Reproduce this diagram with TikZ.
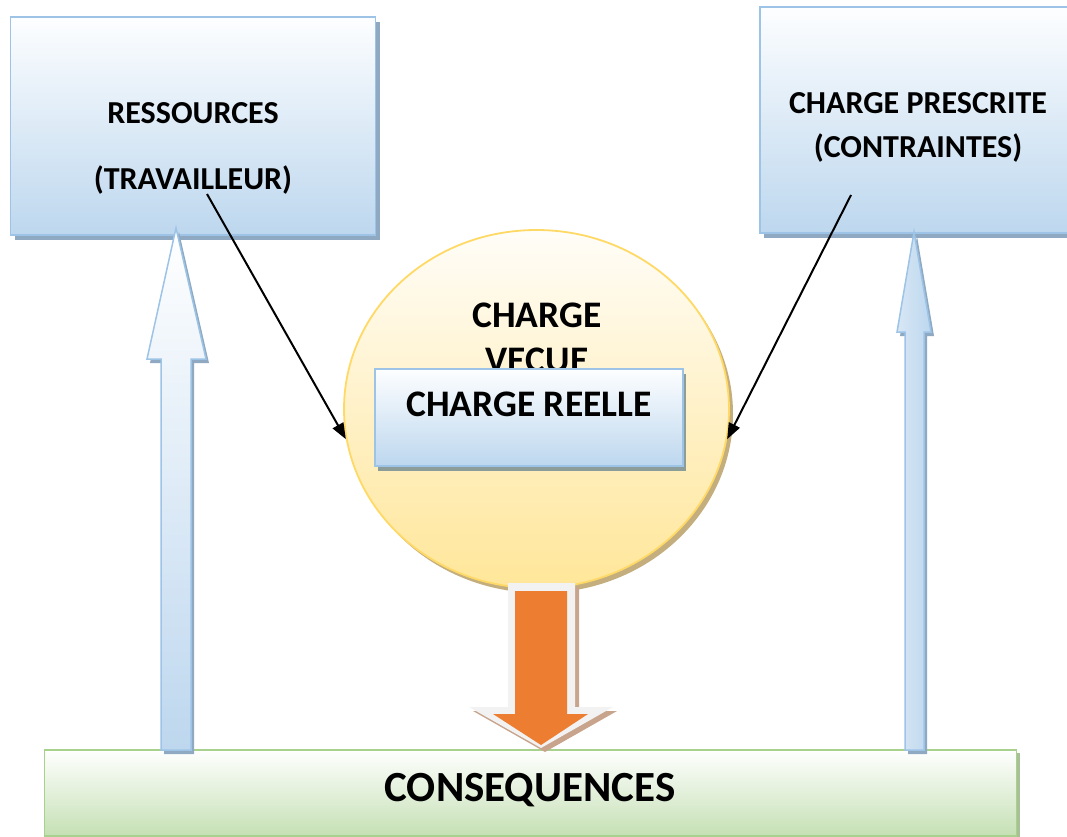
\documentclass[tikz,border=0pt]{standalone}
\usepackage{fontspec}
\setmainfont{Carlito}
\usetikzlibrary{shadows,arrows.meta,shapes.geometric}
\definecolor{bluetop}{HTML}{FDFEFF}
\definecolor{bluebot}{HTML}{BDD7EE}
\definecolor{blueline}{HTML}{9DC3E6}
\definecolor{blueshadow}{HTML}{8EA9C1}
\definecolor{grayshadow}{HTML}{8C9C98}
\definecolor{yeltop}{HTML}{FFFDF8}
\definecolor{yelbot}{HTML}{FFE699}
\definecolor{yelline}{HTML}{FFD966}
\definecolor{yelshadow}{HTML}{C4AE7E}
\definecolor{greentop}{HTML}{FFFFFF}
\definecolor{greenbot}{HTML}{C5E0B4}
\definecolor{greenline}{HTML}{A9D18E}
\definecolor{greenshadow}{HTML}{A9BF98}
\definecolor{orangef}{HTML}{ED7D31}
\definecolor{orangeborder}{HTML}{F2F2F2}
\definecolor{orangeshadow}{HTML}{C9A48C}
\tikzset{
  bluebox/.style={rectangle, draw=blueline, line width=1.6pt, top color=bluetop, bottom color=bluebot,
    drop shadow={shadow xshift=4pt, shadow yshift=-5pt, fill=blueshadow, opacity=1}},
  txt/.style={font=\fontsize{32}{38}\bfseries\selectfont, inner sep=0pt, align=center},
  bigtxt/.style={font=\fontsize{37.5}{44}\bfseries\selectfont, inner sep=0pt, align=center},
  linkarrow/.style={-{Triangle[length=16pt,width=12pt]}, line width=2pt, black},
}
\begin{document}
\begin{tikzpicture}[x=1pt,y=-1pt]
\useasboundingbox (0,0) rectangle (1067,837);

% bottom box
\node[rectangle, draw=greenline, line width=1.6pt, top color=greentop, bottom color=greenbot,
  drop shadow={shadow xshift=3pt, shadow yshift=-3pt, fill=greenshadow, opacity=1},
  minimum width=972pt, minimum height=86pt] (cons) at (530.5,793) {};
\node[font=\fontsize{43}{50}\bfseries\selectfont, inner sep=0pt] (constxt) at (530,790) {CONSEQUENCES};

% top boxes
\node[bluebox, minimum width=365pt, minimum height=218pt] (res) at (193,126) {};
\node[txt] (restxt1) at (193,113) {RESSOURCES};
\node[txt] (restxt2) at (193,180) {(TRAVAILLEUR)};

\node[bluebox, minimum width=316pt, minimum height=226pt] (presc) at (918,120) {};
\node[txt] (presctxt) at (918,127) {CHARGE PRESCRITE\\[6pt](CONTRAINTES)};

% circle
\node[ellipse, draw=yelline, line width=1.8pt, top color=yeltop, bottom color=yelbot,
  drop shadow={shadow xshift=4pt, shadow yshift=-5pt, fill=yelshadow, opacity=1},
  minimum width=385pt, minimum height=358pt, inner sep=0pt] (vecue) at (536.5,409) {};
\node[bigtxt] (vecuetxt) at (537,338) {CHARGE\\[1pt]VECUE};

% charge reelle
\node[rectangle, draw=blueline, line width=1.6pt, top color=bluetop, bottom color=bluebot,
  drop shadow={shadow xshift=3pt, shadow yshift=-5pt, fill=grayshadow, opacity=1},
  minimum width=308pt, minimum height=97pt] (reelle) at (529,417.6) {};
\node[bigtxt] (reelletxt) at (529,404) {CHARGE REELLE};

% black arrows
\coordinate (s1) at (207,194);
\coordinate (s2) at (851,195);
\draw[linkarrow] (s1) -- (vecue.189);
\draw[linkarrow] (s2) -- (vecue.351);

% orange arrow
\path[fill=orangeborder, drop shadow={shadow xshift=4pt, shadow yshift=-4pt, fill=orangeshadow, opacity=1}]
  (508,583) -- (575,583) -- (575,707) -- (613,707) -- (541,748) -- (469,707) -- (508,707) -- cycle;
\path[fill=orangef]
  (515,591) -- (567,591) -- (567,714) -- (588,714) -- (541,745) -- (493,714) -- (515,714) -- cycle;

% left block arrow
\path[draw=blueline, line width=1.5pt, top color=white, bottom color=bluebot,
  drop shadow={shadow xshift=3pt, shadow yshift=-4pt, fill=blueshadow, opacity=1}]
  (176,228) -- (206,359) -- (191,359) -- (191,750) -- (161,750) -- (161,359) -- (147,359) -- cycle;

% right block arrow
\path[draw=blueline, line width=1.5pt, left color=bluebot!60!white, right color=bluebot,
  drop shadow={shadow xshift=3pt, shadow yshift=-4pt, fill=blueshadow, opacity=1}]
  (914,232) -- (931,332) -- (924,332) -- (924,750) -- (905,750) -- (905,332) -- (897,332) -- cycle;
\end{tikzpicture}
\end{document}
